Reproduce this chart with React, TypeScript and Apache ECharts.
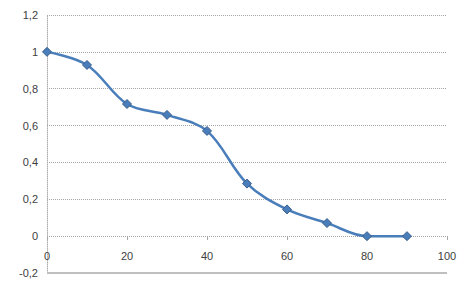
import React, { useEffect, useRef } from "react";
import * as echarts from "echarts";

const xValues = [0, 10, 20, 30, 40, 50, 60, 70, 80, 90];
const yValues = [1.0, 0.929, 0.717, 0.658, 0.571, 0.285, 0.145, 0.071, 0.0, 0.0];
const formatNum = (v: number) => String(Math.round(v * 10) / 10).replace(".", ",");

export default function App() {
  const ref = useRef<HTMLDivElement>(null);
  useEffect(() => {
    const chart = echarts.init(ref.current!, null, { renderer: "svg" });
    const font = "Liberation Sans";
    chart.setOption({
      animation: false,
      backgroundColor: "#ffffff",
      grid: { left: 47, right: 24, top: 15, bottom: 15, containLabel: false, outerBoundsMode: "none" },
      xAxis: {
        type: "value",
        min: 0,
        max: 100,
        interval: 20,
        offset: -37,
        axisLine: { show: false, onZero: false },
        axisTick: { show: true, length: 4, lineStyle: { color: "#a6a6a6" } },
        axisLabel: { margin: 14, color: "#404040", fontSize: 11, fontFamily: font },
        splitLine: { show: false },
      },
      yAxis: {
        type: "value",
        min: -0.2,
        max: 1.2,
        interval: 0.2,
        axisLine: { show: true, onZero: false, lineStyle: { color: "#b0b0b0", type: "dotted", width: 1 } },
        axisTick: { show: false },
        axisLabel: { margin: 9, color: "#404040", fontSize: 11, fontFamily: font, formatter: formatNum },
        splitLine: { show: true, lineStyle: { color: "#a6a6a6", type: "dotted", width: 1 } },
      },
      series: [
        {
          type: "line",
          data: xValues.map((x, i) => [x, yValues[i]]),
          smooth: 0.35,
          symbol: "diamond",
          symbolSize: 9,
          lineStyle: { color: "#4a7ebb", width: 2.5 },
          itemStyle: { color: "#4a7ebb", borderColor: "#385d8a", borderWidth: 1 },
          markLine: {
            silent: true,
            symbol: "none",
            label: { show: false },
            lineStyle: { color: "#bfbfbf", type: "solid", width: 2 },
            data: [{ yAxis: -0.2 }],
          },
        },
      ],
    });
    return () => chart.dispose();
  }, []);
  return <div ref={ref} style={{ width: 471, height: 288, position: "absolute", left: 0, top: 0 }} />;
}
